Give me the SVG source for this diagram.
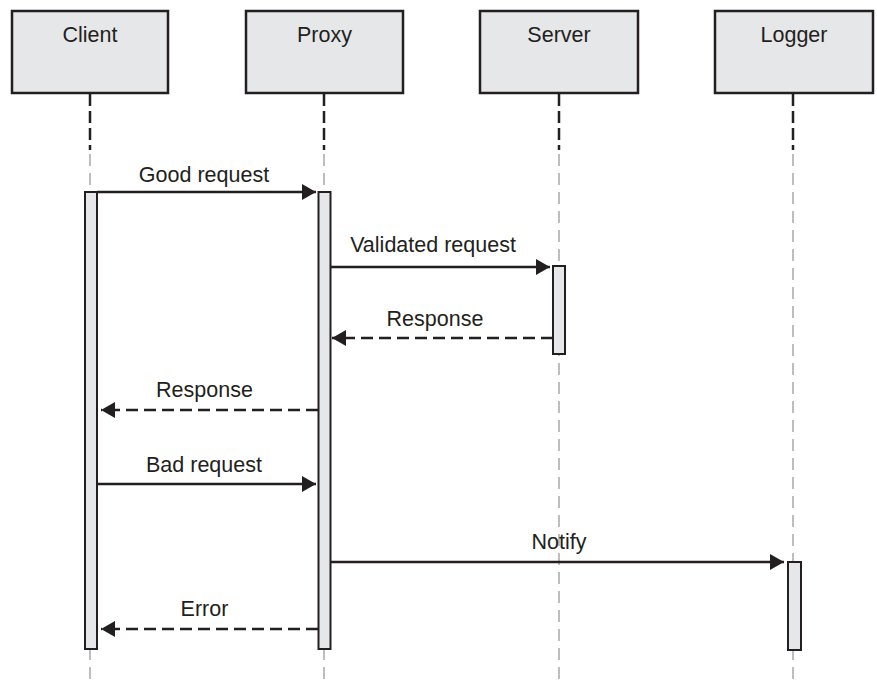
<svg xmlns="http://www.w3.org/2000/svg" width="877" height="680" viewBox="0 0 877 680">
<style>
.box{fill:#e6e7e8;stroke:#231f20;stroke-width:2.5}
.bar{fill:#e6e7e8;stroke:#231f20;stroke-width:2}
.lbl{font-family:"Liberation Sans",Arial,sans-serif;font-size:21.5px;fill:#231f20;text-anchor:middle}
.life-top{stroke:#231f20;stroke-width:2.5;stroke-dasharray:12 5;fill:none}
.life{stroke:#bcbec0;stroke-width:2;stroke-dasharray:12 7;fill:none}
.msg{stroke:#231f20;stroke-width:2.5;fill:none}
.ret{stroke:#231f20;stroke-width:2.5;fill:none;stroke-dasharray:12 6}
</style>
<defs>
<marker id="ah" viewBox="0 0 14 16" refX="14" refY="8" markerWidth="14" markerHeight="16" markerUnits="userSpaceOnUse" orient="auto">
<path d="M0,0 L14,8 L0,16 Z" fill="#231f20" stroke="none"/>
</marker>
</defs>
<g id="lifelines">
<path class="life-top" d="M90,94 V150 M324,94 V150 M559,94 V150 M793,94 V150"/>
<path class="life" d="M90,154 V680 M324,154 V680 M559,154 V680 M793,154 V680"/>
</g>
<g id="client"><rect class="box" x="12" y="11" width="156" height="82"/><text class="lbl" x="90" y="42">Client</text></g>
<g id="proxy"><rect class="box" x="246" y="11" width="157" height="82"/><text class="lbl" x="324.5" y="42">Proxy</text></g>
<g id="server"><rect class="box" x="480" y="11" width="158" height="82"/><text class="lbl" x="559" y="42">Server</text></g>
<g id="logger"><rect class="box" x="715" y="11" width="158" height="82"/><text class="lbl" x="794" y="42">Logger</text></g>
<g id="activations">
<rect class="bar" x="85" y="192" width="12" height="457"/>
<rect class="bar" x="318.5" y="192" width="12" height="457"/>
<rect class="bar" x="553" y="266" width="12" height="88"/>
<rect class="bar" x="788" y="562" width="13" height="88"/>
</g>
<g id="connectors">
<path class="msg" d="M97,192 H316" marker-end="url(#ah)"/>
<path class="msg" d="M331,267 H550" marker-end="url(#ah)"/>
<path class="ret" d="M553,338 H332" marker-end="url(#ah)"/>
<path class="ret" d="M318,410 H101" marker-end="url(#ah)"/>
<path class="msg" d="M97,484 H316" marker-end="url(#ah)"/>
<path class="msg" d="M331,562 H784" marker-end="url(#ah)"/>
<path class="ret" d="M318,629 H101" marker-end="url(#ah)"/>
</g>
<g id="labels">
<text class="lbl" x="204" y="182">Good request</text>
<text class="lbl" x="433" y="252">Validated request</text>
<text class="lbl" x="435" y="326">Response</text>
<text class="lbl" x="204.5" y="397">Response</text>
<text class="lbl" x="204" y="472">Bad request</text>
<text class="lbl" x="559" y="549">Notify</text>
<text class="lbl" x="204.5" y="616">Error</text>
</g>
</svg>
